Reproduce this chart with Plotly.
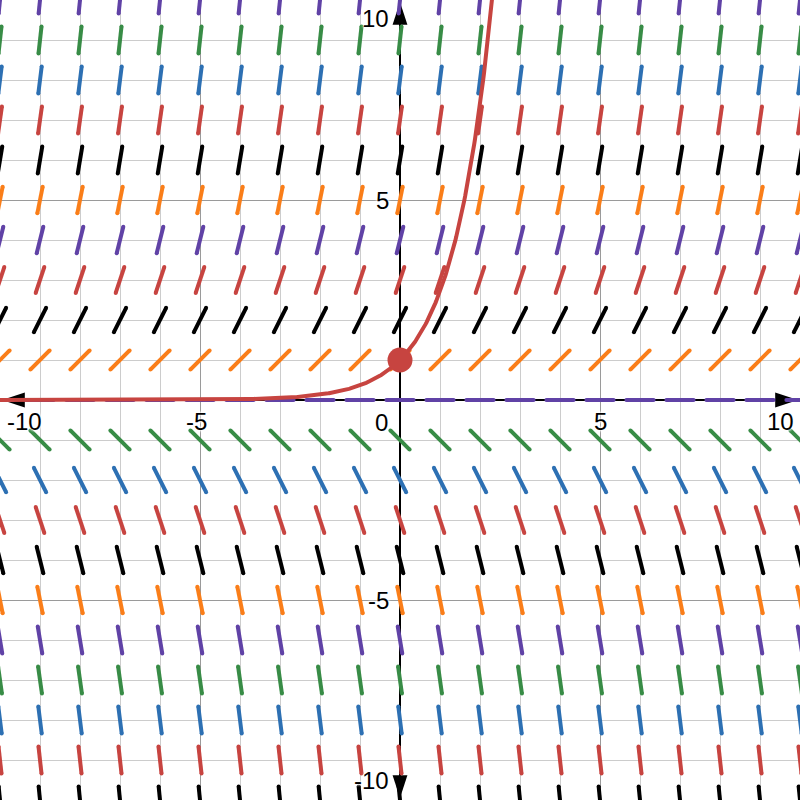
import numpy as np
import plotly.graph_objects as go

# ---- data ----
x_min, x_max = -10, 10
y_min, y_max = -10, 10
grid_x = list(range(-10, 11))           # slope-field columns
grid_y = list(range(10, -11, -1))       # slope-field rows (top to bottom)
row_colors = ["P", "G", "B", "R", "K", "O", "P", "R", "K", "O", "P",
              "G", "B", "R", "K", "O", "P", "G", "B", "R", "K"]
palette = {"P": "#6042a6", "G": "#388c46", "B": "#2d70b3",
           "R": "#c74440", "K": "#000000", "O": "#fa7e19"}
x_ticks = [-10, -5, 5, 10]
y_ticks = [10, 5, -5, -10]
tick_labels_x = ["-10", "-5", "5", "10"]
tick_labels_y = ["10", "5", "-5", "-10"]
point_x, point_y = [0], [1]


def slope(x, y):
    return y  # dy/dx = y


half_len = 0.34  # half segment length in axis units
seg_w = 4.0

fig = go.Figure()

# axis arrowheads (tip slightly inside the plot edge)
edge = 0.05
fig.add_trace(go.Scatter(
    x=[x_max - edge, x_min + edge, 0, 0], y=[0, 0, y_max - edge, y_min + edge],
    mode="markers",
    marker=dict(symbol="arrow", angle=[90, 270, 0, 180], size=24, color="black",
                line=dict(width=0)),
    hoverinfo="skip", showlegend=False))

# slope field segments grouped by color
segs = {}
for yv, c in zip(grid_y, row_colors):
    for xv in grid_x:
        m = slope(xv, yv)
        dx = half_len / np.sqrt(1 + m * m)
        dy = m * dx
        xs, ys = segs.setdefault(c, ([], []))
        xs += [xv - dx, xv + dx, None]
        ys += [yv - dy, yv + dy, None]
for c, (xs, ys) in segs.items():
    fig.add_trace(go.Scatter(x=xs, y=ys, mode="lines+markers",
                             line=dict(color=palette[c], width=seg_w),
                             marker=dict(size=seg_w, color=palette[c], line=dict(width=0)),
                             hoverinfo="skip", showlegend=False))

# solution curve y = e^x through (0,1)
cx = np.linspace(x_min, np.log(y_max + 0.5), 600)
fig.add_trace(go.Scatter(x=cx, y=np.exp(cx), mode="lines",
                         line=dict(color="#c74440", width=4),
                         hoverinfo="skip", showlegend=False))
fig.add_trace(go.Scatter(x=point_x, y=point_y, mode="markers",
                         marker=dict(size=25, color="#c74440", line=dict(width=0)),
                         hoverinfo="skip", showlegend=False))

ann = []
shadow = "0px 0px 3px white, 0px 0px 3px white, 0px 0px 3px white"
font = dict(family="Liberation Sans, Arial, sans-serif", size=24, color="black", shadow=shadow)
for v, t in zip(x_ticks, tick_labels_x):
    if v == x_min:
        xa, xs = "left", 5
    elif v == x_max:
        xa, xs = "right", -4
    else:
        xa, xs = "center", (-4 if v < 0 else 0)
    ann.append(dict(x=v, y=0, text=t, showarrow=False, xanchor=xa, yanchor="middle",
                    xshift=xs, yshift=-21, font=font))
for v, t in zip(y_ticks, tick_labels_y):
    ys = 0
    if v == y_max:
        ys = -18
    elif v == y_min:
        ys = 20
    ann.append(dict(x=0, y=v, text=t, showarrow=False, xanchor="right", yanchor="middle",
                    xshift=-9, yshift=ys, font=font))
ann.append(dict(x=0, y=0, text="0", showarrow=False, xanchor="right", yanchor="middle",
                xshift=-10, yshift=-22, font=font))

axis_common = dict(showgrid=True, gridcolor="#9a9a9a", gridwidth=1.3, dtick=5, tick0=0,
                   minor=dict(dtick=1, tick0=0, showgrid=True, gridcolor="#cccccc", gridwidth=1.3),
                   zeroline=True, zerolinecolor="black", zerolinewidth=2,
                   showticklabels=False, ticks="", showline=False, fixedrange=True)

fig.update_layout(
    width=800, height=800, margin=dict(l=0, r=0, t=0, b=0),
    plot_bgcolor="white", paper_bgcolor="white",
    xaxis=dict(range=[x_min, x_max], **axis_common),
    yaxis=dict(range=[y_min, y_max], **axis_common),
    annotations=ann, showlegend=False)

fig.write_html("out.html")
